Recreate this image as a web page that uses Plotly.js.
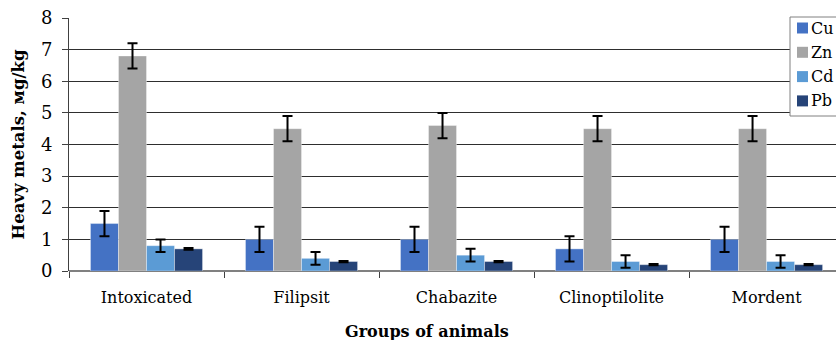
<!DOCTYPE html>
<html>
<head>
<meta charset="utf-8">
<script src="https://cdn.plot.ly/plotly-3.0.1.min.js"></script>
<style>html,body{margin:0;padding:0;background:#fff;}#chart{width:836px;height:340px;}</style>
</head>
<body>
<div id="chart"></div>
<script>
var groups = ["Intoxicated", "Filipsit", "Chabazite", "Clinoptilolite", "Mordent"];
var seriesNames = ["Cu", "Zn", "Cd", "Pb"];
var cuValues = [1.5, 1.0, 1.0, 0.7, 1.0];
var cuErrors = [0.4, 0.4, 0.4, 0.4, 0.4];
var znValues = [6.8, 4.5, 4.6, 4.5, 4.5];
var znErrors = [0.4, 0.4, 0.4, 0.4, 0.4];
var cdValues = [0.8, 0.4, 0.5, 0.3, 0.3];
var cdErrors = [0.2, 0.2, 0.2, 0.2, 0.2];
var pbValues = [0.7, 0.3, 0.3, 0.2, 0.2];
var pbErrors = [0.03, 0.02, 0.02, 0.02, 0.02];
var yTickValues = [0, 1, 2, 3, 4, 5, 6, 7, 8];

var colors = ["#4472C4", "#A5A5A5", "#5B9BD5", "#264478"];
var allValues = [cuValues, znValues, cdValues, pbValues];
var allErrors = [cuErrors, znErrors, cdErrors, pbErrors];

var traces = seriesNames.map(function (name, i) {
  return {
    type: "bar",
    name: name,
    x: groups,
    y: allValues[i],
    showlegend: false,
    marker: { color: colors[i], line: { color: "rgba(255,255,255,0.6)", width: 0.6 } },
    error_y: { type: "data", array: allErrors[i], visible: true, color: "#000", thickness: 2, width: 5 }
  };
});

var serif = "DejaVu Serif, Liberation Serif, serif";

// Pixel geometry of the plot area (for the hand-built legend box)
var W = 836, H = 340, mL = 69, mR = 0, mT = 18, mB = 69;
var pw = W - mL - mR, ph = H - mT - mB;
function px(x) { return (x - mL) / pw; }
function py(y) { return (H - mB - y) / ph; }

var shapes = [];
var annotations = [];
// legend frame
var lgL = 790, lgR = 836, lgT = 17, lgB = 116;
shapes.push({ type: "rect", xref: "paper", yref: "paper", x0: px(lgL), x1: px(lgR + 10), y0: py(lgB), y1: py(lgT),
  line: { color: "#808080", width: 1 }, fillcolor: "#fff", layer: "above" });
seriesNames.forEach(function (name, i) {
  var cy = 28 + i * 24.3;
  shapes.push({ type: "rect", xref: "paper", yref: "paper", x0: px(797), x1: px(808), y0: py(cy + 5.5), y1: py(cy - 5.5),
    line: { width: 0 }, fillcolor: colors[i], layer: "above" });
  annotations.push({ xref: "paper", yref: "paper", x: px(810), y: py(cy), xanchor: "left", yanchor: "middle",
    text: name, showarrow: false, borderpad: 0, font: { family: serif, size: 16, color: "#000" } });
});

annotations.push({
  xref: "paper", yref: "paper",
  x: px(427), y: py(320),
  xanchor: "center", yanchor: "top",
  text: "<b>Groups of animals</b>",
  showarrow: false,
  font: { family: serif, size: 16, color: "#000" }
});

var layout = {
  width: W,
  height: H,
  margin: { l: mL, r: mR, t: mT, b: mB, autoexpand: false },
  paper_bgcolor: "#fff",
  plot_bgcolor: "#fff",
  barmode: "group",
  bargap: 0.277,
  bargroupgap: 0,
  showlegend: false,
  xaxis: {
    type: "category",
    range: [-0.5, 4.448],
    showline: false,
    ticks: "outside",
    tickson: "boundaries",
    ticklen: 6,
    tickcolor: "#404040",
    tickwidth: 1,
    showgrid: false,
    ticklabelstandoff: 15,
    tickfont: { family: serif, size: 16, color: "#000" },
    fixedrange: true
  },
  yaxis: {
    range: [0, 8],
    tickvals: yTickValues,
    ticktext: yTickValues.map(String),
    showline: true,
    linecolor: "#404040",
    linewidth: 1,
    ticks: "outside",
    ticklen: 6,
    tickcolor: "#404040",
    showgrid: true,
    gridcolor: "#2e2e2e",
    gridwidth: 1,
    zeroline: true,
    zerolinecolor: "#808080",
    zerolinewidth: 2,
    ticklabelstandoff: 6,
    tickfont: { family: serif, size: 18, color: "#000" },
    title: { text: "Heavy metals, мg/kg", font: { family: serif, size: 16.5, color: "#000", weight: "bold" }, standoff: 12 },
    fixedrange: true
  },
  shapes: shapes,
  annotations: annotations
};

Plotly.newPlot("chart", traces, layout, { displayModeBar: false, staticPlot: true });
</script>
</body>
</html>
